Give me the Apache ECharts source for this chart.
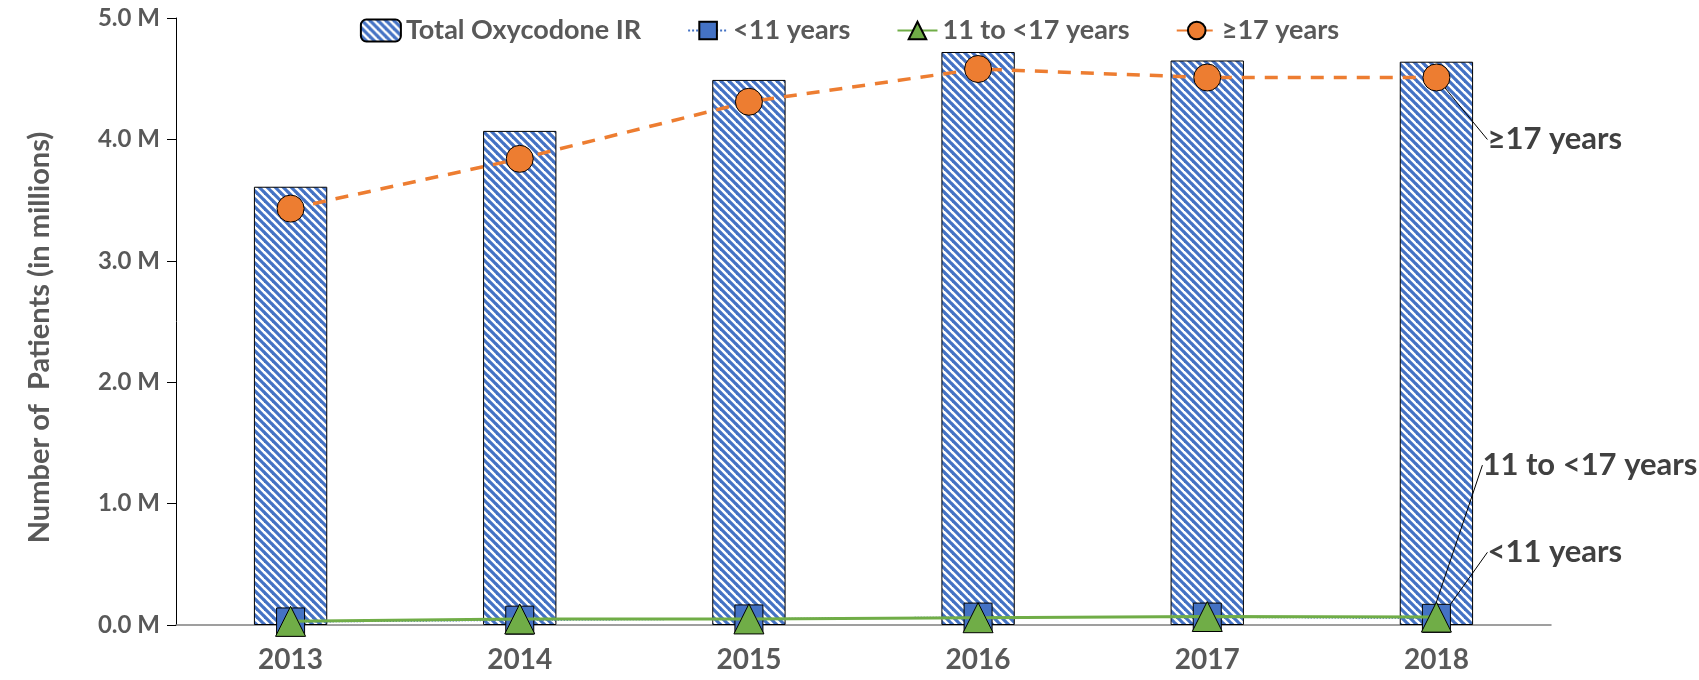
<!DOCTYPE html>
<html>
<head>
<meta charset="utf-8">
<script src="https://cdn.jsdelivr.net/npm/echarts@6/dist/echarts.min.js"></script>
<style>
  html, body { margin: 0; padding: 0; background: #fff; }
  #main { width: 1699px; height: 680px; }
</style>
</head>
<body>
<div id="main"></div>
<script>
const years = ['2013', '2014', '2015', '2016', '2017', '2018'];
const totalOxycodone = [3.61, 4.07, 4.49, 4.72, 4.65, 4.64];
const under11 = [0.025, 0.04, 0.05, 0.065, 0.065, 0.055];
const age11to17 = [0.03, 0.05, 0.05, 0.06, 0.07, 0.065];
const age17plus = [3.43, 3.84, 4.31, 4.58, 4.51, 4.51];
const yTicks = [0, 1, 2, 3, 4, 5];

const FONT = 'Lato';
const dom = document.getElementById('main');

function makeStripes() {
  const size = 8;
  const c = document.createElement('canvas');
  c.width = size;
  c.height = size;
  const ctx = c.getContext('2d');
  ctx.fillStyle = '#fff';
  ctx.fillRect(0, 0, size, size);
  ctx.strokeStyle = '#4472C4';
  ctx.lineWidth = 3.2;
  for (let k = -1; k <= 1; k++) {
    ctx.beginPath();
    ctx.moveTo(k * size - 1, -1);
    ctx.lineTo(k * size + size + 1, size + 1);
    ctx.stroke();
  }
  return c;
}

// put the end-of-line label at an offset from the last point
function endLabel(dx, dy) {
  return function (params) {
    if (params.dataIndex !== years.length - 1) return {};
    return {
      x: params.rect.x + params.rect.width / 2 + dx,
      y: params.rect.y + params.rect.height / 2 + dy,
      align: 'left',
      verticalAlign: 'middle',
    };
  };
}

function lastLabelData(values, text) {
  return values.map((v, i) => {
    if (i !== values.length - 1) return v;
    return {
      value: v,
      label: {
        show: true,
        formatter: text,
        color: '#404040',
        fontFamily: FONT,
        fontWeight: 'bold',
        fontSize: 31,
      },
      labelLine: { show: true, lineStyle: { color: '#000', width: 1 } },
    };
  });
}

function getChartOptions() {
  return {
    animation: false,
    legend: {
      top: 12,
      left: 'center',
      itemGap: 46,
      itemWidth: 40,
      itemHeight: 22,
      textStyle: { fontFamily: FONT, fontSize: 27, fontWeight: 'bold', color: '#595959' },
      data: ['Total Oxycodone IR', '<11 years', '11 to <17 years', '≥17 years'],
    },
    grid: { left: 176, right: 148, top: 18, bottom: 55 },
    xAxis: {
      type: 'category',
      data: years,
      axisLine: { lineStyle: { color: '#808080', width: 1.5 } },
      axisTick: { show: false },
      axisLabel: {
        margin: 21,
        fontFamily: FONT,
        fontWeight: 'bold',
        fontSize: 28,
        color: '#595959',
      },
    },
    yAxis: {
      type: 'value',
      min: 0,
      max: yTicks[yTicks.length - 1],
      interval: 1,
      name: 'Number of  Patients (in millions)',
      nameLocation: 'middle',
      nameGap: 122,
      nameTextStyle: {
        fontFamily: FONT,
        fontWeight: 'bold',
        fontSize: 29,
        color: '#595959',
        padding: [0, 32, 0, 0],
      },
      splitLine: { show: false },
      axisLine: { show: true, lineStyle: { color: '#000', width: 1 } },
      axisTick: { show: true, length: 9, lineStyle: { color: '#000' } },
      axisLabel: {
        margin: 16,
        fontFamily: FONT,
        fontWeight: 'bold',
        fontSize: 24,
        color: '#595959',
        formatter: (v) => v.toFixed(1) + ' M',
      },
    },
    series: [
      {
        name: 'Total Oxycodone IR',
        type: 'bar',
        barWidth: '32%',
        data: totalOxycodone,
        itemStyle: {
          color: { image: makeStripes(), repeat: 'repeat' },
          borderColor: '#000',
          borderWidth: 1,
        },
        z: 1,
      },
      {
        name: '<11 years',
        type: 'line',
        data: lastLabelData(under11, '<11 years'),
        symbol: 'rect',
        symbolSize: 28,
        lineStyle: { color: '#4472C4', width: 1.5, type: 'dotted' },
        itemStyle: { color: '#4472C4', borderColor: '#000', borderWidth: 1 },
        labelLayout: endLabel(51, -66),
        z: 3,
      },
      {
        name: '11 to <17 years',
        type: 'line',
        data: lastLabelData(age11to17, '11 to <17 years'),
        symbol: 'triangle',
        symbolSize: 30,
        lineStyle: { color: '#70AD47', width: 3 },
        itemStyle: { color: '#70AD47', borderColor: '#000', borderWidth: 1 },
        labelLayout: endLabel(46, -152),
        z: 4,
      },
      {
        name: '≥17 years',
        type: 'line',
        data: lastLabelData(age17plus, '≥17 years'),
        symbol: 'circle',
        symbolSize: 27,
        lineStyle: { color: '#ED7D31', width: 3.5, type: [13, 10] },
        itemStyle: { color: '#ED7D31', borderColor: '#000', borderWidth: 1 },
        labelLayout: endLabel(51, 62),
        z: 5,
      },
    ],
  };
}

const myChart = echarts.init(dom);
myChart.setOption(getChartOptions());
</script>
</body>
</html>
